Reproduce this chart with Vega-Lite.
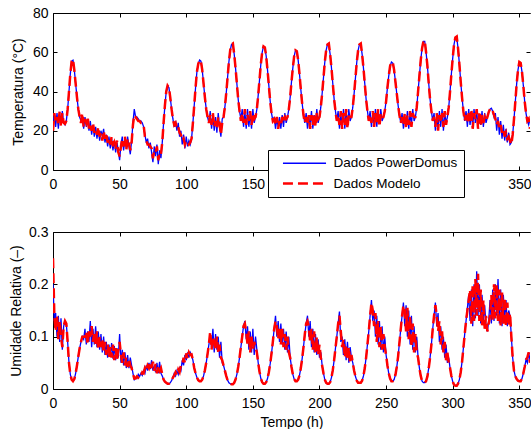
{
"$schema": "https://vega.github.io/schema/vega-lite/v6.json",
"padding": {"left": 9, "top": 6, "right": 0, "bottom": 0},
"background": "white",
"bounds": "flush",
"spacing": 62,
"config": {
  "font": "Liberation Sans",
  "view": {"stroke": null},
  "axis": {"grid": false, "domainColor": "#000", "tickColor": "#000", "labelColor": "#000", "titleColor": "#000", "labelFont": "Liberation Sans", "titleFont": "Liberation Sans", "labelFontSize": 14, "titleFontSize": 14, "titleFontWeight": "normal", "tickSize": -4, "labelFlush": false, "labelOverlap": false, "domainWidth": 1, "tickWidth": 1}
},
"datasets": {"d": [
{"t":0,"T_pd":25,"T_mod":20,"UR_pd":0.2,"UR_mod":0.25},
{"t":1,"T_pd":28,"T_mod":29,"UR_pd":0.13,"UR_mod":0.14},
{"t":2,"T_pd":22,"T_mod":24,"UR_pd":0.145,"UR_mod":0.11},
{"t":3,"T_pd":29,"T_mod":27,"UR_pd":0.1,"UR_mod":0.14},
{"t":4,"T_pd":21,"T_mod":23,"UR_pd":0.14,"UR_mod":0.095},
{"t":5,"T_pd":29,"T_mod":30,"UR_pd":0.09,"UR_mod":0.13},
{"t":6,"T_pd":23,"T_mod":22,"UR_pd":0.135,"UR_mod":0.1},
{"t":7,"T_pd":30,"T_mod":29,"UR_pd":0.075,"UR_mod":0.08},
{"t":8,"T_pd":24,"T_mod":24,"UR_pd":0.12,"UR_mod":0.12},
{"t":9,"T_pd":23,"T_mod":23.5,"UR_pd":0.13,"UR_mod":0.13},
{"t":10,"T_pd":25,"T_mod":25,"UR_pd":0.125,"UR_mod":0.125},
{"t":11,"T_pd":31,"T_mod":31,"UR_pd":0.09,"UR_mod":0.09},
{"t":12,"T_pd":40,"T_mod":40,"UR_pd":0.05,"UR_mod":0.05},
{"t":13,"T_pd":49,"T_mod":49,"UR_pd":0.028,"UR_mod":0.028},
{"t":14,"T_pd":55.5,"T_mod":55.5,"UR_pd":0.018,"UR_mod":0.018},
{"t":15,"T_pd":56,"T_mod":56.5,"UR_pd":0.015,"UR_mod":0.015},
{"t":16,"T_pd":51,"T_mod":51,"UR_pd":0.019,"UR_mod":0.019},
{"t":17,"T_pd":44,"T_mod":44,"UR_pd":0.03,"UR_mod":0.03},
{"t":18,"T_pd":37,"T_mod":37,"UR_pd":0.045,"UR_mod":0.045},
{"t":19,"T_pd":31,"T_mod":31,"UR_pd":0.062,"UR_mod":0.062},
{"t":20,"T_pd":27,"T_mod":27,"UR_pd":0.078,"UR_mod":0.078},
{"t":21,"T_pd":25,"T_mod":24,"UR_pd":0.09,"UR_mod":0.09},
{"t":22,"T_pd":28,"T_mod":29,"UR_pd":0.1,"UR_mod":0.1},
{"t":23,"T_pd":21,"T_mod":22,"UR_pd":0.095,"UR_mod":0.1},
{"t":24,"T_pd":27,"T_mod":26,"UR_pd":0.115,"UR_mod":0.1},
{"t":25,"T_pd":22,"T_mod":24,"UR_pd":0.085,"UR_mod":0.11},
{"t":26,"T_pd":26,"T_mod":27,"UR_pd":0.11,"UR_mod":0.085},
{"t":27,"T_pd":20,"T_mod":21,"UR_pd":0.09,"UR_mod":0.115},
{"t":28,"T_pd":25,"T_mod":23,"UR_pd":0.13,"UR_mod":0.1},
{"t":29,"T_pd":18,"T_mod":20,"UR_pd":0.08,"UR_mod":0.12},
{"t":30,"T_pd":23,"T_mod":24,"UR_pd":0.115,"UR_mod":0.09},
{"t":31,"T_pd":17,"T_mod":19,"UR_pd":0.085,"UR_mod":0.11},
{"t":32,"T_pd":22,"T_mod":21,"UR_pd":0.12,"UR_mod":0.085},
{"t":33,"T_pd":16,"T_mod":18,"UR_pd":0.08,"UR_mod":0.11},
{"t":34,"T_pd":21,"T_mod":22,"UR_pd":0.11,"UR_mod":0.075},
{"t":35,"T_pd":15,"T_mod":17,"UR_pd":0.075,"UR_mod":0.1},
{"t":36,"T_pd":20,"T_mod":19,"UR_pd":0.105,"UR_mod":0.08},
{"t":37,"T_pd":17,"T_mod":15,"UR_pd":0.07,"UR_mod":0.095},
{"t":38,"T_pd":21,"T_mod":20,"UR_pd":0.1,"UR_mod":0.07},
{"t":39,"T_pd":14,"T_mod":16,"UR_pd":0.065,"UR_mod":0.09},
{"t":40,"T_pd":18,"T_mod":19,"UR_pd":0.09,"UR_mod":0.065},
{"t":41,"T_pd":12,"T_mod":14,"UR_pd":0.06,"UR_mod":0.085},
{"t":42,"T_pd":17,"T_mod":16,"UR_pd":0.085,"UR_mod":0.06},
{"t":43,"T_pd":11,"T_mod":13,"UR_pd":0.062,"UR_mod":0.08},
{"t":44,"T_pd":16,"T_mod":17,"UR_pd":0.088,"UR_mod":0.06},
{"t":45,"T_pd":10,"T_mod":12,"UR_pd":0.058,"UR_mod":0.085},
{"t":46,"T_pd":15,"T_mod":14,"UR_pd":0.082,"UR_mod":0.055},
{"t":47,"T_pd":9,"T_mod":11,"UR_pd":0.055,"UR_mod":0.078},
{"t":48,"T_pd":14,"T_mod":15,"UR_pd":0.078,"UR_mod":0.055},
{"t":49,"T_pd":10,"T_mod":9,"UR_pd":0.06,"UR_mod":0.075},
{"t":50,"T_pd":5,"T_mod":7,"UR_pd":0.105,"UR_mod":0.09},
{"t":51,"T_pd":13,"T_mod":12,"UR_pd":0.05,"UR_mod":0.065},
{"t":52,"T_pd":17,"T_mod":16,"UR_pd":0.075,"UR_mod":0.05},
{"t":53,"T_pd":10,"T_mod":12,"UR_pd":0.045,"UR_mod":0.07},
{"t":54,"T_pd":16,"T_mod":17,"UR_pd":0.07,"UR_mod":0.045},
{"t":55,"T_pd":11,"T_mod":10,"UR_pd":0.04,"UR_mod":0.06},
{"t":56,"T_pd":17,"T_mod":16,"UR_pd":0.065,"UR_mod":0.042},
{"t":57,"T_pd":12,"T_mod":14,"UR_pd":0.04,"UR_mod":0.058},
{"t":58,"T_pd":8,"T_mod":10,"UR_pd":0.06,"UR_mod":0.045},
{"t":59,"T_pd":15,"T_mod":14,"UR_pd":0.045,"UR_mod":0.04},
{"t":60,"T_pd":24,"T_mod":23,"UR_pd":0.03,"UR_mod":0.03},
{"t":61,"T_pd":31,"T_mod":28,"UR_pd":0.018,"UR_mod":0.02},
{"t":62,"T_pd":27,"T_mod":27,"UR_pd":0.022,"UR_mod":0.02},
{"t":63,"T_pd":27,"T_mod":26,"UR_pd":0.02,"UR_mod":0.024},
{"t":64,"T_pd":26,"T_mod":25,"UR_pd":0.028,"UR_mod":0.022},
{"t":65,"T_pd":25,"T_mod":25,"UR_pd":0.024,"UR_mod":0.028},
{"t":66,"T_pd":25,"T_mod":24,"UR_pd":0.03,"UR_mod":0.026},
{"t":67,"T_pd":24,"T_mod":24,"UR_pd":0.026,"UR_mod":0.032},
{"t":68,"T_pd":22,"T_mod":23,"UR_pd":0.035,"UR_mod":0.03},
{"t":69,"T_pd":18,"T_mod":17,"UR_pd":0.03,"UR_mod":0.04},
{"t":70,"T_pd":14,"T_mod":15,"UR_pd":0.045,"UR_mod":0.035},
{"t":71,"T_pd":16,"T_mod":13,"UR_pd":0.035,"UR_mod":0.045},
{"t":72,"T_pd":11,"T_mod":13,"UR_pd":0.05,"UR_mod":0.04},
{"t":73,"T_pd":14,"T_mod":12,"UR_pd":0.038,"UR_mod":0.05},
{"t":74,"T_pd":9,"T_mod":11,"UR_pd":0.055,"UR_mod":0.04},
{"t":75,"T_pd":4,"T_mod":6,"UR_pd":0.035,"UR_mod":0.052},
{"t":76,"T_pd":12,"T_mod":10,"UR_pd":0.045,"UR_mod":0.035},
{"t":77,"T_pd":7,"T_mod":9,"UR_pd":0.032,"UR_mod":0.048},
{"t":78,"T_pd":13,"T_mod":12,"UR_pd":0.05,"UR_mod":0.03},
{"t":79,"T_pd":3,"T_mod":5,"UR_pd":0.03,"UR_mod":0.045},
{"t":80,"T_pd":10,"T_mod":9,"UR_pd":0.052,"UR_mod":0.035},
{"t":81,"T_pd":6,"T_mod":8,"UR_pd":0.03,"UR_mod":0.04},
{"t":82,"T_pd":14,"T_mod":14,"UR_pd":0.025,"UR_mod":0.028},
{"t":83,"T_pd":24,"T_mod":24,"UR_pd":0.018,"UR_mod":0.018},
{"t":84,"T_pd":33,"T_mod":33,"UR_pd":0.014,"UR_mod":0.014},
{"t":85,"T_pd":40,"T_mod":40,"UR_pd":0.012,"UR_mod":0.012},
{"t":86,"T_pd":43,"T_mod":43,"UR_pd":0.01,"UR_mod":0.01},
{"t":87,"T_pd":42,"T_mod":42,"UR_pd":0.01,"UR_mod":0.01},
{"t":88,"T_pd":37,"T_mod":37,"UR_pd":0.012,"UR_mod":0.012},
{"t":89,"T_pd":31,"T_mod":31,"UR_pd":0.016,"UR_mod":0.016},
{"t":90,"T_pd":26,"T_mod":26,"UR_pd":0.022,"UR_mod":0.022},
{"t":91,"T_pd":22,"T_mod":23,"UR_pd":0.03,"UR_mod":0.026},
{"t":92,"T_pd":25,"T_mod":24,"UR_pd":0.025,"UR_mod":0.032},
{"t":93,"T_pd":20,"T_mod":21,"UR_pd":0.035,"UR_mod":0.027},
{"t":94,"T_pd":24,"T_mod":22,"UR_pd":0.028,"UR_mod":0.037},
{"t":95,"T_pd":17,"T_mod":19,"UR_pd":0.04,"UR_mod":0.032},
{"t":96,"T_pd":20,"T_mod":18,"UR_pd":0.035,"UR_mod":0.045},
{"t":97,"T_pd":13,"T_mod":15,"UR_pd":0.055,"UR_mod":0.045},
{"t":98,"T_pd":18,"T_mod":16,"UR_pd":0.045,"UR_mod":0.06},
{"t":99,"T_pd":11,"T_mod":13,"UR_pd":0.065,"UR_mod":0.05},
{"t":100,"T_pd":17,"T_mod":15,"UR_pd":0.055,"UR_mod":0.068},
{"t":101,"T_pd":12,"T_mod":14,"UR_pd":0.07,"UR_mod":0.058},
{"t":102,"T_pd":15,"T_mod":13,"UR_pd":0.06,"UR_mod":0.07},
{"t":103,"T_pd":13,"T_mod":14,"UR_pd":0.07,"UR_mod":0.065},
{"t":104,"T_pd":16,"T_mod":16,"UR_pd":0.065,"UR_mod":0.066},
{"t":105,"T_pd":24,"T_mod":24,"UR_pd":0.055,"UR_mod":0.055},
{"t":106,"T_pd":33,"T_mod":33,"UR_pd":0.04,"UR_mod":0.04},
{"t":107,"T_pd":42,"T_mod":42,"UR_pd":0.03,"UR_mod":0.03},
{"t":108,"T_pd":50,"T_mod":50,"UR_pd":0.022,"UR_mod":0.022},
{"t":109,"T_pd":54,"T_mod":54,"UR_pd":0.017,"UR_mod":0.017},
{"t":110,"T_pd":56,"T_mod":56,"UR_pd":0.015,"UR_mod":0.015},
{"t":111,"T_pd":55.5,"T_mod":55.5,"UR_pd":0.015,"UR_mod":0.015},
{"t":112,"T_pd":51,"T_mod":51,"UR_pd":0.018,"UR_mod":0.018},
{"t":113,"T_pd":44,"T_mod":44,"UR_pd":0.025,"UR_mod":0.025},
{"t":114,"T_pd":37,"T_mod":37,"UR_pd":0.036,"UR_mod":0.036},
{"t":115,"T_pd":31,"T_mod":31,"UR_pd":0.05,"UR_mod":0.05},
{"t":116,"T_pd":27,"T_mod":27,"UR_pd":0.067,"UR_mod":0.067},
{"t":117,"T_pd":24,"T_mod":24,"UR_pd":0.085,"UR_mod":0.085},
{"t":118,"T_pd":30,"T_mod":28,"UR_pd":0.1,"UR_mod":0.11},
{"t":119,"T_pd":21,"T_mod":23,"UR_pd":0.08,"UR_mod":0.075},
{"t":120,"T_pd":28,"T_mod":29,"UR_pd":0.115,"UR_mod":0.1},
{"t":121,"T_pd":20,"T_mod":22,"UR_pd":0.07,"UR_mod":0.09},
{"t":122,"T_pd":27,"T_mod":25,"UR_pd":0.105,"UR_mod":0.075},
{"t":123,"T_pd":19,"T_mod":21,"UR_pd":0.075,"UR_mod":0.1},
{"t":124,"T_pd":29,"T_mod":27,"UR_pd":0.1,"UR_mod":0.07},
{"t":125,"T_pd":22,"T_mod":24,"UR_pd":0.06,"UR_mod":0.085},
{"t":126,"T_pd":17,"T_mod":18,"UR_pd":0.09,"UR_mod":0.06},
{"t":127,"T_pd":26,"T_mod":24,"UR_pd":0.05,"UR_mod":0.055},
{"t":128,"T_pd":27,"T_mod":27,"UR_pd":0.045,"UR_mod":0.045},
{"t":129,"T_pd":32,"T_mod":32,"UR_pd":0.035,"UR_mod":0.035},
{"t":130,"T_pd":39,"T_mod":39,"UR_pd":0.025,"UR_mod":0.025},
{"t":131,"T_pd":47,"T_mod":47,"UR_pd":0.017,"UR_mod":0.017},
{"t":132,"T_pd":55,"T_mod":55,"UR_pd":0.012,"UR_mod":0.012},
{"t":133,"T_pd":61,"T_mod":61,"UR_pd":0.01,"UR_mod":0.01},
{"t":134,"T_pd":64,"T_mod":64,"UR_pd":0.009,"UR_mod":0.009},
{"t":135,"T_pd":64,"T_mod":64.5,"UR_pd":0.009,"UR_mod":0.009},
{"t":136,"T_pd":59,"T_mod":59,"UR_pd":0.012,"UR_mod":0.012},
{"t":137,"T_pd":52,"T_mod":52,"UR_pd":0.018,"UR_mod":0.018},
{"t":138,"T_pd":44,"T_mod":44,"UR_pd":0.028,"UR_mod":0.028},
{"t":139,"T_pd":36,"T_mod":36,"UR_pd":0.042,"UR_mod":0.042},
{"t":140,"T_pd":30,"T_mod":30,"UR_pd":0.06,"UR_mod":0.06},
{"t":141,"T_pd":26,"T_mod":25,"UR_pd":0.08,"UR_mod":0.08},
{"t":142,"T_pd":31,"T_mod":29,"UR_pd":0.1,"UR_mod":0.1},
{"t":143,"T_pd":22,"T_mod":24,"UR_pd":0.12,"UR_mod":0.12},
{"t":144,"T_pd":30,"T_mod":31,"UR_pd":0.13,"UR_mod":0.125},
{"t":145,"T_pd":21,"T_mod":23,"UR_pd":0.095,"UR_mod":0.11},
{"t":146,"T_pd":31,"T_mod":28,"UR_pd":0.12,"UR_mod":0.085},
{"t":147,"T_pd":22,"T_mod":25,"UR_pd":0.075,"UR_mod":0.11},
{"t":148,"T_pd":29,"T_mod":30,"UR_pd":0.11,"UR_mod":0.07},
{"t":149,"T_pd":21,"T_mod":23,"UR_pd":0.07,"UR_mod":0.1},
{"t":150,"T_pd":31,"T_mod":29,"UR_pd":0.115,"UR_mod":0.075},
{"t":151,"T_pd":24,"T_mod":26,"UR_pd":0.065,"UR_mod":0.09},
{"t":152,"T_pd":27,"T_mod":27,"UR_pd":0.1,"UR_mod":0.08},
{"t":153,"T_pd":31,"T_mod":31,"UR_pd":0.075,"UR_mod":0.07},
{"t":154,"T_pd":38,"T_mod":38,"UR_pd":0.05,"UR_mod":0.05},
{"t":155,"T_pd":46,"T_mod":46,"UR_pd":0.033,"UR_mod":0.033},
{"t":156,"T_pd":54,"T_mod":54,"UR_pd":0.02,"UR_mod":0.02},
{"t":157,"T_pd":60,"T_mod":60,"UR_pd":0.013,"UR_mod":0.013},
{"t":158,"T_pd":63,"T_mod":63,"UR_pd":0.01,"UR_mod":0.01},
{"t":159,"T_pd":62.5,"T_mod":62.5,"UR_pd":0.01,"UR_mod":0.01},
{"t":160,"T_pd":58,"T_mod":58,"UR_pd":0.013,"UR_mod":0.013},
{"t":161,"T_pd":51,"T_mod":51,"UR_pd":0.02,"UR_mod":0.02},
{"t":162,"T_pd":43,"T_mod":43,"UR_pd":0.032,"UR_mod":0.032},
{"t":163,"T_pd":35,"T_mod":35,"UR_pd":0.048,"UR_mod":0.048},
{"t":164,"T_pd":29,"T_mod":29,"UR_pd":0.068,"UR_mod":0.068},
{"t":165,"T_pd":25,"T_mod":25,"UR_pd":0.09,"UR_mod":0.09},
{"t":166,"T_pd":27,"T_mod":26,"UR_pd":0.115,"UR_mod":0.115},
{"t":167,"T_pd":21,"T_mod":23,"UR_pd":0.14,"UR_mod":0.13},
{"t":168,"T_pd":26,"T_mod":27,"UR_pd":0.1,"UR_mod":0.12},
{"t":169,"T_pd":22,"T_mod":21,"UR_pd":0.13,"UR_mod":0.095},
{"t":170,"T_pd":27,"T_mod":25,"UR_pd":0.09,"UR_mod":0.12},
{"t":171,"T_pd":21,"T_mod":23,"UR_pd":0.125,"UR_mod":0.085},
{"t":172,"T_pd":28,"T_mod":27,"UR_pd":0.085,"UR_mod":0.115},
{"t":173,"T_pd":22,"T_mod":24,"UR_pd":0.115,"UR_mod":0.08},
{"t":174,"T_pd":29,"T_mod":27,"UR_pd":0.075,"UR_mod":0.105},
{"t":175,"T_pd":24,"T_mod":26,"UR_pd":0.11,"UR_mod":0.075},
{"t":176,"T_pd":27,"T_mod":27,"UR_pd":0.07,"UR_mod":0.1},
{"t":177,"T_pd":31,"T_mod":31,"UR_pd":0.1,"UR_mod":0.07},
{"t":178,"T_pd":37,"T_mod":37,"UR_pd":0.06,"UR_mod":0.06},
{"t":179,"T_pd":45,"T_mod":45,"UR_pd":0.042,"UR_mod":0.042},
{"t":180,"T_pd":52,"T_mod":52,"UR_pd":0.028,"UR_mod":0.028},
{"t":181,"T_pd":58,"T_mod":58,"UR_pd":0.019,"UR_mod":0.019},
{"t":182,"T_pd":61,"T_mod":61,"UR_pd":0.015,"UR_mod":0.015},
{"t":183,"T_pd":60,"T_mod":60.5,"UR_pd":0.015,"UR_mod":0.015},
{"t":184,"T_pd":56,"T_mod":56,"UR_pd":0.018,"UR_mod":0.018},
{"t":185,"T_pd":49,"T_mod":49,"UR_pd":0.026,"UR_mod":0.026},
{"t":186,"T_pd":41,"T_mod":41,"UR_pd":0.04,"UR_mod":0.04},
{"t":187,"T_pd":34,"T_mod":34,"UR_pd":0.058,"UR_mod":0.058},
{"t":188,"T_pd":28,"T_mod":28,"UR_pd":0.08,"UR_mod":0.08},
{"t":189,"T_pd":24,"T_mod":24,"UR_pd":0.105,"UR_mod":0.105},
{"t":190,"T_pd":29,"T_mod":27,"UR_pd":0.125,"UR_mod":0.125},
{"t":191,"T_pd":21,"T_mod":23,"UR_pd":0.14,"UR_mod":0.13},
{"t":192,"T_pd":27,"T_mod":28,"UR_pd":0.1,"UR_mod":0.12},
{"t":193,"T_pd":22,"T_mod":21,"UR_pd":0.13,"UR_mod":0.09},
{"t":194,"T_pd":30,"T_mod":28,"UR_pd":0.08,"UR_mod":0.115},
{"t":195,"T_pd":21,"T_mod":23,"UR_pd":0.115,"UR_mod":0.075},
{"t":196,"T_pd":28,"T_mod":29,"UR_pd":0.07,"UR_mod":0.11},
{"t":197,"T_pd":23,"T_mod":22,"UR_pd":0.105,"UR_mod":0.07},
{"t":198,"T_pd":31,"T_mod":29,"UR_pd":0.065,"UR_mod":0.1},
{"t":199,"T_pd":24,"T_mod":26,"UR_pd":0.095,"UR_mod":0.065},
{"t":200,"T_pd":27,"T_mod":27,"UR_pd":0.06,"UR_mod":0.085},
{"t":201,"T_pd":32,"T_mod":32,"UR_pd":0.07,"UR_mod":0.06},
{"t":202,"T_pd":39,"T_mod":39,"UR_pd":0.045,"UR_mod":0.045},
{"t":203,"T_pd":47,"T_mod":47,"UR_pd":0.03,"UR_mod":0.03},
{"t":204,"T_pd":55,"T_mod":55,"UR_pd":0.018,"UR_mod":0.018},
{"t":205,"T_pd":61,"T_mod":61,"UR_pd":0.012,"UR_mod":0.012},
{"t":206,"T_pd":64,"T_mod":64,"UR_pd":0.01,"UR_mod":0.01},
{"t":207,"T_pd":64,"T_mod":64.5,"UR_pd":0.01,"UR_mod":0.01},
{"t":208,"T_pd":59,"T_mod":59,"UR_pd":0.013,"UR_mod":0.013},
{"t":209,"T_pd":52,"T_mod":52,"UR_pd":0.022,"UR_mod":0.022},
{"t":210,"T_pd":44,"T_mod":44,"UR_pd":0.036,"UR_mod":0.036},
{"t":211,"T_pd":36,"T_mod":36,"UR_pd":0.055,"UR_mod":0.055},
{"t":212,"T_pd":30,"T_mod":30,"UR_pd":0.078,"UR_mod":0.078},
{"t":213,"T_pd":25,"T_mod":25,"UR_pd":0.1,"UR_mod":0.1},
{"t":214,"T_pd":30,"T_mod":28,"UR_pd":0.125,"UR_mod":0.125},
{"t":215,"T_pd":21,"T_mod":23,"UR_pd":0.148,"UR_mod":0.14},
{"t":216,"T_pd":29,"T_mod":30,"UR_pd":0.09,"UR_mod":0.11},
{"t":217,"T_pd":22,"T_mod":21,"UR_pd":0.1,"UR_mod":0.08},
{"t":218,"T_pd":31,"T_mod":29,"UR_pd":0.065,"UR_mod":0.095},
{"t":219,"T_pd":21,"T_mod":23,"UR_pd":0.095,"UR_mod":0.06},
{"t":220,"T_pd":30,"T_mod":31,"UR_pd":0.055,"UR_mod":0.085},
{"t":221,"T_pd":22,"T_mod":21,"UR_pd":0.09,"UR_mod":0.055},
{"t":222,"T_pd":31,"T_mod":29,"UR_pd":0.05,"UR_mod":0.08},
{"t":223,"T_pd":25,"T_mod":27,"UR_pd":0.08,"UR_mod":0.05},
{"t":224,"T_pd":27,"T_mod":27,"UR_pd":0.06,"UR_mod":0.065},
{"t":225,"T_pd":32,"T_mod":32,"UR_pd":0.05,"UR_mod":0.05},
{"t":226,"T_pd":39,"T_mod":39,"UR_pd":0.035,"UR_mod":0.035},
{"t":227,"T_pd":47,"T_mod":47,"UR_pd":0.024,"UR_mod":0.024},
{"t":228,"T_pd":55,"T_mod":55,"UR_pd":0.016,"UR_mod":0.016},
{"t":229,"T_pd":61,"T_mod":61,"UR_pd":0.012,"UR_mod":0.012},
{"t":230,"T_pd":64,"T_mod":64,"UR_pd":0.012,"UR_mod":0.012},
{"t":231,"T_pd":64,"T_mod":64.5,"UR_pd":0.012,"UR_mod":0.012},
{"t":232,"T_pd":59,"T_mod":59,"UR_pd":0.016,"UR_mod":0.016},
{"t":233,"T_pd":52,"T_mod":52,"UR_pd":0.025,"UR_mod":0.025},
{"t":234,"T_pd":44,"T_mod":44,"UR_pd":0.04,"UR_mod":0.04},
{"t":235,"T_pd":36,"T_mod":36,"UR_pd":0.06,"UR_mod":0.06},
{"t":236,"T_pd":30,"T_mod":30,"UR_pd":0.085,"UR_mod":0.085},
{"t":237,"T_pd":25,"T_mod":25,"UR_pd":0.11,"UR_mod":0.11},
{"t":238,"T_pd":30,"T_mod":28,"UR_pd":0.14,"UR_mod":0.14},
{"t":239,"T_pd":22,"T_mod":24,"UR_pd":0.17,"UR_mod":0.165},
{"t":240,"T_pd":29,"T_mod":30,"UR_pd":0.13,"UR_mod":0.15},
{"t":241,"T_pd":23,"T_mod":22,"UR_pd":0.15,"UR_mod":0.12},
{"t":242,"T_pd":31,"T_mod":29,"UR_pd":0.1,"UR_mod":0.145},
{"t":243,"T_pd":22,"T_mod":24,"UR_pd":0.14,"UR_mod":0.09},
{"t":244,"T_pd":30,"T_mod":31,"UR_pd":0.085,"UR_mod":0.13},
{"t":245,"T_pd":24,"T_mod":22,"UR_pd":0.13,"UR_mod":0.08},
{"t":246,"T_pd":31,"T_mod":29,"UR_pd":0.075,"UR_mod":0.12},
{"t":247,"T_pd":25,"T_mod":27,"UR_pd":0.12,"UR_mod":0.075},
{"t":248,"T_pd":27,"T_mod":27,"UR_pd":0.07,"UR_mod":0.105},
{"t":249,"T_pd":30,"T_mod":30,"UR_pd":0.1,"UR_mod":0.08},
{"t":250,"T_pd":35,"T_mod":35,"UR_pd":0.065,"UR_mod":0.065},
{"t":251,"T_pd":42,"T_mod":42,"UR_pd":0.045,"UR_mod":0.045},
{"t":252,"T_pd":48,"T_mod":48,"UR_pd":0.03,"UR_mod":0.03},
{"t":253,"T_pd":53,"T_mod":53,"UR_pd":0.02,"UR_mod":0.02},
{"t":254,"T_pd":55,"T_mod":55,"UR_pd":0.015,"UR_mod":0.015},
{"t":255,"T_pd":54.5,"T_mod":55,"UR_pd":0.015,"UR_mod":0.015},
{"t":256,"T_pd":51,"T_mod":51,"UR_pd":0.018,"UR_mod":0.018},
{"t":257,"T_pd":45,"T_mod":45,"UR_pd":0.027,"UR_mod":0.027},
{"t":258,"T_pd":39,"T_mod":39,"UR_pd":0.042,"UR_mod":0.042},
{"t":259,"T_pd":33,"T_mod":33,"UR_pd":0.062,"UR_mod":0.062},
{"t":260,"T_pd":28,"T_mod":28,"UR_pd":0.088,"UR_mod":0.088},
{"t":261,"T_pd":24,"T_mod":24,"UR_pd":0.115,"UR_mod":0.115},
{"t":262,"T_pd":29,"T_mod":27,"UR_pd":0.14,"UR_mod":0.14},
{"t":263,"T_pd":21,"T_mod":23,"UR_pd":0.165,"UR_mod":0.16},
{"t":264,"T_pd":28,"T_mod":29,"UR_pd":0.12,"UR_mod":0.15},
{"t":265,"T_pd":22,"T_mod":21,"UR_pd":0.16,"UR_mod":0.11},
{"t":266,"T_pd":30,"T_mod":28,"UR_pd":0.1,"UR_mod":0.155},
{"t":267,"T_pd":21,"T_mod":23,"UR_pd":0.15,"UR_mod":0.095},
{"t":268,"T_pd":29,"T_mod":30,"UR_pd":0.085,"UR_mod":0.14},
{"t":269,"T_pd":23,"T_mod":22,"UR_pd":0.14,"UR_mod":0.08},
{"t":270,"T_pd":31,"T_mod":29,"UR_pd":0.075,"UR_mod":0.125},
{"t":271,"T_pd":25,"T_mod":27,"UR_pd":0.12,"UR_mod":0.07},
{"t":272,"T_pd":27,"T_mod":27,"UR_pd":0.07,"UR_mod":0.105},
{"t":273,"T_pd":32,"T_mod":32,"UR_pd":0.1,"UR_mod":0.07},
{"t":274,"T_pd":40,"T_mod":40,"UR_pd":0.06,"UR_mod":0.06},
{"t":275,"T_pd":48,"T_mod":48,"UR_pd":0.04,"UR_mod":0.04},
{"t":276,"T_pd":56,"T_mod":56,"UR_pd":0.025,"UR_mod":0.025},
{"t":277,"T_pd":62,"T_mod":62,"UR_pd":0.015,"UR_mod":0.015},
{"t":278,"T_pd":65.5,"T_mod":65.5,"UR_pd":0.012,"UR_mod":0.012},
{"t":279,"T_pd":65.5,"T_mod":66,"UR_pd":0.012,"UR_mod":0.012},
{"t":280,"T_pd":60,"T_mod":60,"UR_pd":0.015,"UR_mod":0.015},
{"t":281,"T_pd":53,"T_mod":53,"UR_pd":0.024,"UR_mod":0.024},
{"t":282,"T_pd":44,"T_mod":44,"UR_pd":0.04,"UR_mod":0.04},
{"t":283,"T_pd":36,"T_mod":36,"UR_pd":0.06,"UR_mod":0.06},
{"t":284,"T_pd":30,"T_mod":30,"UR_pd":0.085,"UR_mod":0.085},
{"t":285,"T_pd":25,"T_mod":25,"UR_pd":0.115,"UR_mod":0.115},
{"t":286,"T_pd":29,"T_mod":27,"UR_pd":0.14,"UR_mod":0.14},
{"t":287,"T_pd":20,"T_mod":22,"UR_pd":0.165,"UR_mod":0.16},
{"t":288,"T_pd":28,"T_mod":29,"UR_pd":0.12,"UR_mod":0.14},
{"t":289,"T_pd":21,"T_mod":20,"UR_pd":0.145,"UR_mod":0.11},
{"t":290,"T_pd":30,"T_mod":28,"UR_pd":0.09,"UR_mod":0.13},
{"t":291,"T_pd":22,"T_mod":24,"UR_pd":0.12,"UR_mod":0.085},
{"t":292,"T_pd":31,"T_mod":29,"UR_pd":0.075,"UR_mod":0.11},
{"t":293,"T_pd":20,"T_mod":22,"UR_pd":0.1,"UR_mod":0.07},
{"t":294,"T_pd":29,"T_mod":30,"UR_pd":0.06,"UR_mod":0.09},
{"t":295,"T_pd":24,"T_mod":23,"UR_pd":0.085,"UR_mod":0.055},
{"t":296,"T_pd":27,"T_mod":27,"UR_pd":0.05,"UR_mod":0.07},
{"t":297,"T_pd":32,"T_mod":32,"UR_pd":0.06,"UR_mod":0.05},
{"t":298,"T_pd":40,"T_mod":40,"UR_pd":0.04,"UR_mod":0.04},
{"t":299,"T_pd":49,"T_mod":49,"UR_pd":0.025,"UR_mod":0.025},
{"t":300,"T_pd":57,"T_mod":57,"UR_pd":0.014,"UR_mod":0.014},
{"t":301,"T_pd":64,"T_mod":64,"UR_pd":0.008,"UR_mod":0.008},
{"t":302,"T_pd":67.5,"T_mod":67.5,"UR_pd":0.007,"UR_mod":0.006},
{"t":303,"T_pd":67.5,"T_mod":68,"UR_pd":0.007,"UR_mod":0.006},
{"t":304,"T_pd":62,"T_mod":62,"UR_pd":0.01,"UR_mod":0.01},
{"t":305,"T_pd":54,"T_mod":54,"UR_pd":0.018,"UR_mod":0.018},
{"t":306,"T_pd":45,"T_mod":45,"UR_pd":0.032,"UR_mod":0.032},
{"t":307,"T_pd":37,"T_mod":37,"UR_pd":0.052,"UR_mod":0.052},
{"t":308,"T_pd":30,"T_mod":30,"UR_pd":0.078,"UR_mod":0.078},
{"t":309,"T_pd":25,"T_mod":25,"UR_pd":0.105,"UR_mod":0.105},
{"t":310,"T_pd":30,"T_mod":28,"UR_pd":0.13,"UR_mod":0.13},
{"t":311,"T_pd":22,"T_mod":24,"UR_pd":0.155,"UR_mod":0.15},
{"t":312,"T_pd":31,"T_mod":29,"UR_pd":0.18,"UR_mod":0.17},
{"t":313,"T_pd":23,"T_mod":25,"UR_pd":0.13,"UR_mod":0.19},
{"t":314,"T_pd":29,"T_mod":31,"UR_pd":0.19,"UR_mod":0.125},
{"t":315,"T_pd":22,"T_mod":21,"UR_pd":0.12,"UR_mod":0.2},
{"t":316,"T_pd":31,"T_mod":29,"UR_pd":0.2,"UR_mod":0.13},
{"t":317,"T_pd":24,"T_mod":26,"UR_pd":0.135,"UR_mod":0.21},
{"t":318,"T_pd":30,"T_mod":31,"UR_pd":0.225,"UR_mod":0.14},
{"t":319,"T_pd":22,"T_mod":21,"UR_pd":0.14,"UR_mod":0.22},
{"t":320,"T_pd":28,"T_mod":30,"UR_pd":0.2,"UR_mod":0.13},
{"t":321,"T_pd":23,"T_mod":22,"UR_pd":0.125,"UR_mod":0.19},
{"t":322,"T_pd":30,"T_mod":28,"UR_pd":0.18,"UR_mod":0.12},
{"t":323,"T_pd":22,"T_mod":24,"UR_pd":0.13,"UR_mod":0.17},
{"t":324,"T_pd":29,"T_mod":27,"UR_pd":0.16,"UR_mod":0.115},
{"t":325,"T_pd":24,"T_mod":25,"UR_pd":0.12,"UR_mod":0.14},
{"t":326,"T_pd":27,"T_mod":27,"UR_pd":0.11,"UR_mod":0.11},
{"t":327,"T_pd":29.5,"T_mod":29.5,"UR_pd":0.13,"UR_mod":0.125},
{"t":328,"T_pd":31,"T_mod":31,"UR_pd":0.17,"UR_mod":0.14},
{"t":329,"T_pd":31.5,"T_mod":31.5,"UR_pd":0.125,"UR_mod":0.18},
{"t":330,"T_pd":30,"T_mod":30,"UR_pd":0.19,"UR_mod":0.13},
{"t":331,"T_pd":27,"T_mod":28,"UR_pd":0.13,"UR_mod":0.2},
{"t":332,"T_pd":29,"T_mod":26,"UR_pd":0.2,"UR_mod":0.135},
{"t":333,"T_pd":20,"T_mod":23,"UR_pd":0.14,"UR_mod":0.2},
{"t":334,"T_pd":27,"T_mod":25,"UR_pd":0.21,"UR_mod":0.13},
{"t":335,"T_pd":18,"T_mod":21,"UR_pd":0.125,"UR_mod":0.19},
{"t":336,"T_pd":25,"T_mod":23,"UR_pd":0.19,"UR_mod":0.12},
{"t":337,"T_pd":16,"T_mod":19,"UR_pd":0.12,"UR_mod":0.185},
{"t":338,"T_pd":23,"T_mod":21,"UR_pd":0.18,"UR_mod":0.125},
{"t":339,"T_pd":15,"T_mod":17,"UR_pd":0.13,"UR_mod":0.175},
{"t":340,"T_pd":21,"T_mod":19,"UR_pd":0.17,"UR_mod":0.12},
{"t":341,"T_pd":14,"T_mod":16,"UR_pd":0.12,"UR_mod":0.165},
{"t":342,"T_pd":19,"T_mod":17,"UR_pd":0.15,"UR_mod":0.12},
{"t":343,"T_pd":13,"T_mod":15,"UR_pd":0.14,"UR_mod":0.145},
{"t":344,"T_pd":14,"T_mod":13,"UR_pd":0.1,"UR_mod":0.1},
{"t":345,"T_pd":18,"T_mod":18,"UR_pd":0.06,"UR_mod":0.06},
{"t":346,"T_pd":26,"T_mod":26,"UR_pd":0.035,"UR_mod":0.035},
{"t":347,"T_pd":35,"T_mod":35,"UR_pd":0.024,"UR_mod":0.024},
{"t":348,"T_pd":44,"T_mod":44,"UR_pd":0.019,"UR_mod":0.019},
{"t":349,"T_pd":51,"T_mod":51,"UR_pd":0.016,"UR_mod":0.016},
{"t":350,"T_pd":55,"T_mod":55,"UR_pd":0.015,"UR_mod":0.015},
{"t":351,"T_pd":54.5,"T_mod":54.5,"UR_pd":0.015,"UR_mod":0.015},
{"t":352,"T_pd":50,"T_mod":50,"UR_pd":0.02,"UR_mod":0.02},
{"t":353,"T_pd":43,"T_mod":43,"UR_pd":0.03,"UR_mod":0.03},
{"t":354,"T_pd":35,"T_mod":35,"UR_pd":0.042,"UR_mod":0.042},
{"t":355,"T_pd":29,"T_mod":29,"UR_pd":0.056,"UR_mod":0.056},
{"t":356,"T_pd":25,"T_mod":25,"UR_pd":0.05,"UR_mod":0.06},
{"t":357,"T_pd":23,"T_mod":26,"UR_pd":0.07,"UR_mod":0.07},
{"t":358,"T_pd":26,"T_mod":21,"UR_pd":0.055,"UR_mod":0.05}
]},
"data": {"name": "d"},
"vconcat": [
  {
    "width": 477, "height": 157,
    "layer": [
      {"mark": {"type": "line", "clip": true},
       "encoding": {
         "x": {"field": "t", "type": "quantitative", "scale": {"domain": [0, 358], "nice": false, "zero": false}, "axis": {"orient": "bottom", "values": [0,50,100,150,200,250,300,350], "title": null, "labelPadding": 11.5}},
         "y": {"field": "T_pd", "type": "quantitative", "scale": {"domain": [0, 80], "nice": false}, "axis": {"orient": "left", "values": [0,20,40,60,80], "title": "Temperatura (°C)", "titlePadding": 6.5, "labelPadding": 9}},
         "color": {"datum": "Dados PowerDomus", "type": "nominal", "scale": {"domain": ["Dados PowerDomus", "Dados Modelo"], "range": ["#0000ff", "#ff0000"]},
           "legend": {"title": null, "orient": "none", "legendX": 215, "legendY": 137, "padding": 6.5, "strokeColor": "#000", "fillColor": "#ffffff", "symbolType": "M-4,0H4", "symbolSize": 116, "symbolOffset": 23, "labelOffset": 22, "rowPadding": 6, "labelFontSize": 13.5, "labelFont": "Liberation Sans", "labelColor": "#000", "direction": "vertical"}},
         "strokeDash": {"datum": "Dados PowerDomus", "type": "nominal", "scale": {"domain": ["Dados PowerDomus", "Dados Modelo"], "range": [[1, 0], [10, 5]]}},
         "strokeWidth": {"datum": "Dados PowerDomus", "type": "nominal", "scale": {"domain": ["Dados PowerDomus", "Dados Modelo"], "range": [1.3, 2.5]}}
       }},
      {"mark": {"type": "line", "clip": true},
       "encoding": {
         "x": {"field": "t", "type": "quantitative", "scale": {"domain": [0, 358], "nice": false, "zero": false}, "axis": {"orient": "top", "values": [0,50,100,150,200,250,300,350], "title": null, "labels": false}},
         "y": {"field": "T_mod", "type": "quantitative", "scale": {"domain": [0, 80], "nice": false}, "axis": {"orient": "right", "values": [0,20,40,60,80], "title": null, "labels": false, "domain": false}},
         "color": {"datum": "Dados Modelo", "type": "nominal"},
         "strokeDash": {"datum": "Dados Modelo", "type": "nominal"},
         "strokeWidth": {"datum": "Dados Modelo", "type": "nominal"}
       }}
    ],
    "resolve": {"axis": {"x": "independent", "y": "independent"}}
  },
  {
    "width": 477, "height": 157,
    "layer": [
      {"mark": {"type": "line", "clip": true},
       "encoding": {
         "x": {"field": "t", "type": "quantitative", "scale": {"domain": [0, 358], "nice": false, "zero": false}, "axis": {"orient": "bottom", "values": [0,50,100,150,200,250,300,350], "title": "Tempo (h)", "labelPadding": 11.5, "titlePadding": 5}},
         "y": {"field": "UR_pd", "type": "quantitative", "scale": {"domain": [0, 0.3], "nice": false}, "axis": {"orient": "left", "values": [0,0.1,0.2,0.3], "format": "~g", "title": "Umidade Relativa (–)", "titlePadding": 5.5, "labelPadding": 9}},
         "color": {"datum": "Dados PowerDomus", "type": "nominal"},
         "strokeDash": {"datum": "Dados PowerDomus", "type": "nominal"},
         "strokeWidth": {"datum": "Dados PowerDomus", "type": "nominal"}
       }},
      {"mark": {"type": "line", "clip": true},
       "encoding": {
         "x": {"field": "t", "type": "quantitative", "scale": {"domain": [0, 358], "nice": false, "zero": false}, "axis": {"orient": "top", "values": [0,50,100,150,200,250,300,350], "title": null, "labels": false}},
         "y": {"field": "UR_mod", "type": "quantitative", "scale": {"domain": [0, 0.3], "nice": false}, "axis": {"orient": "right", "values": [0,0.1,0.2,0.3], "title": null, "labels": false, "domain": false}},
         "color": {"datum": "Dados Modelo", "type": "nominal"},
         "strokeDash": {"datum": "Dados Modelo", "type": "nominal"},
         "strokeWidth": {"datum": "Dados Modelo", "type": "nominal"}
       }}
    ],
    "resolve": {"axis": {"x": "independent", "y": "independent"}}
  }
]
}
